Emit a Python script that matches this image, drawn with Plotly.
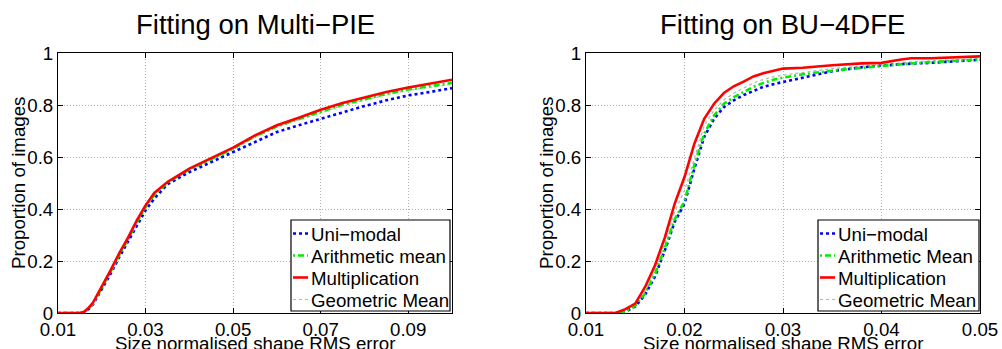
import plotly.graph_objects as go

# ---- Data: Multi-PIE (left) ----
x_mpie = [0.010, 0.015, 0.016, 0.017, 0.018, 0.020, 0.022, 0.024, 0.026, 0.028, 0.030, 0.032,
          0.035, 0.040, 0.045, 0.050, 0.055, 0.060, 0.065, 0.070, 0.075, 0.080, 0.085, 0.090, 0.095, 0.100]
mpie_uni = [0.0, 0.0, 0.004, 0.015, 0.033, 0.09, 0.15, 0.215, 0.275, 0.34, 0.395, 0.44,
            0.495, 0.542, 0.58, 0.619, 0.658, 0.696, 0.722, 0.747, 0.773, 0.796, 0.818, 0.837, 0.85, 0.865]
mpie_arith = [0.0, 0.0, 0.004, 0.017, 0.036, 0.095, 0.158, 0.223, 0.283, 0.349, 0.407, 0.455,
              0.502, 0.552, 0.593, 0.632, 0.679, 0.718, 0.746, 0.775, 0.801, 0.822, 0.843, 0.86, 0.873, 0.885]
mpie_mult = [0.0, 0.0, 0.005, 0.02, 0.04, 0.10, 0.164, 0.23, 0.29, 0.356, 0.414, 0.462,
             0.504, 0.555, 0.596, 0.636, 0.683, 0.722, 0.751, 0.782, 0.808, 0.828, 0.85, 0.867, 0.882, 0.897]
mpie_geo = [0.0, 0.0, 0.004, 0.017, 0.036, 0.094, 0.157, 0.222, 0.282, 0.348, 0.405, 0.453,
            0.5, 0.55, 0.59, 0.63, 0.676, 0.715, 0.743, 0.772, 0.798, 0.818, 0.839, 0.856, 0.869, 0.88]

# ---- Data: BU-4DFE (right) ----
x_bu = [0.010, 0.013, 0.014, 0.015, 0.016, 0.017, 0.018, 0.019, 0.020, 0.021, 0.022, 0.023,
        0.024, 0.025, 0.026, 0.027, 0.028, 0.029, 0.030, 0.032, 0.035, 0.038, 0.040, 0.042,
        0.043, 0.045, 0.050]
bu_uni = [0.0, 0.0, 0.005, 0.025, 0.07, 0.14, 0.24, 0.35, 0.42, 0.555, 0.677, 0.747,
          0.792, 0.818, 0.838, 0.855, 0.87, 0.88, 0.888, 0.905, 0.93, 0.945, 0.952, 0.957,
          0.959, 0.962, 0.974]
bu_arith = [0.0, 0.0, 0.006, 0.028, 0.075, 0.15, 0.25, 0.36, 0.43, 0.57, 0.69, 0.76,
            0.805, 0.83, 0.85, 0.87, 0.885, 0.897, 0.905, 0.918, 0.932, 0.944, 0.95, 0.957,
            0.96, 0.965, 0.975]
bu_mult = [0.0, 0.0, 0.015, 0.036, 0.10, 0.183, 0.29, 0.42, 0.523, 0.651, 0.747, 0.805,
           0.846, 0.872, 0.89, 0.91, 0.922, 0.932, 0.94, 0.943, 0.953, 0.96, 0.962, 0.975,
           0.98, 0.98, 0.987]
bu_geo = [0.0, 0.0, 0.01, 0.03, 0.085, 0.165, 0.27, 0.39, 0.47, 0.6, 0.72, 0.78,
          0.82, 0.845, 0.865, 0.885, 0.898, 0.908, 0.915, 0.926, 0.94, 0.95, 0.955, 0.962,
          0.966, 0.97, 0.978]

names_left = ["Uni\u2212modal", "Arithmetic mean", "Multiplication", "Geometric Mean"]
names_right = ["Uni\u2212modal", "Arithmetic Mean", "Multiplication", "Geometric Mean"]

xt_left = [0.01, 0.03, 0.05, 0.07, 0.09]
xt_right = [0.01, 0.02, 0.03, 0.04, 0.05]
yt = [0, 0.2, 0.4, 0.6, 0.8, 1]
yt_text = ["0", "0.2", "0.4", "0.6", "0.8", "1"]

styles = [
    dict(color="#0000ff", width=2.6, dash="dot"),
    dict(color="#00ee00", width=2.6, dash="2px,3px,6px,3px"),
    dict(color="#ff0000", width=2.6, dash="solid"),
    dict(color="#b4b4b4", width=1.2, dash="dot"),
]

FONT = "Liberation Sans, Arial, sans-serif"
fig = go.Figure()

left_series = [mpie_uni, mpie_arith, mpie_mult, mpie_geo]
right_series = [bu_uni, bu_arith, bu_mult, bu_geo]
order = [3, 0, 1, 2]  # geometric underneath, red on top
for i in order:
    fig.add_trace(go.Scatter(x=x_mpie, y=left_series[i], mode="lines", name=names_left[i],
                             line=styles[i], xaxis="x", yaxis="y", showlegend=False))
for i in order:
    fig.add_trace(go.Scatter(x=x_bu, y=right_series[i], mode="lines", name=names_right[i],
                             line=styles[i], xaxis="x2", yaxis="y2", showlegend=False))

W, H = 1002, 349
ydom = [(H - 313) / H, (H - 53) / H]
axis_common = dict(showline=True, linecolor="black", linewidth=1, mirror="allticks",
                   ticks="inside", ticklen=5, tickcolor="black", automargin=False,
                   showgrid=True, gridcolor="#b0b0b0", griddash="1px,2px", gridwidth=1,
                   zeroline=False, tickfont=dict(family=FONT, size=18.7, color="black"))

fig.update_layout(
    width=W, height=H, margin=dict(l=0, r=0, t=0, b=0, autoexpand=False),
    paper_bgcolor="white", plot_bgcolor="white",
    font=dict(family=FONT, color="black"),
    xaxis=dict(domain=[58 / W, 452 / W], range=[0.01, 0.10], tickvals=xt_left,
               ticktext=[f"{v:.2f}" for v in xt_left], anchor="y", **axis_common),
    yaxis=dict(domain=ydom, range=[0, 1], tickvals=yt, ticktext=yt_text, anchor="x",
               **axis_common),
    xaxis2=dict(domain=[586 / W, 980 / W], range=[0.01, 0.05], tickvals=xt_right,
                ticktext=[f"{v:.2f}" for v in xt_right], anchor="y2", **axis_common),
    yaxis2=dict(domain=ydom, range=[0, 1], tickvals=yt, ticktext=yt_text, anchor="x2",
                **axis_common),
    showlegend=False,
)

ann = []
shapes = []
for cx, t in [(255, "Fitting on Multi\u2212PIE"), (782, "Fitting on BU\u22124DFE")]:
    ann.append(dict(x=cx / W, y=(H - 25) / H, xref="paper", yref="paper", text=t,
                    showarrow=False, xanchor="center", yanchor="middle",
                    font=dict(family=FONT, size=27.5, color="black")))
for cx in [255, 783]:
    ann.append(dict(x=cx / W, y=(H - 343) / H, xref="paper", yref="paper",
                    text="Size normalised shape RMS error", showarrow=False,
                    xanchor="center", yanchor="middle",
                    font=dict(family=FONT, size=18.7, color="black")))
for cx in [18, 546]:
    ann.append(dict(x=cx / W, y=(H - 183) / H, xref="paper", yref="paper",
                    text="Proportion of images", showarrow=False, textangle=-90,
                    xanchor="center", yanchor="middle",
                    font=dict(family=FONT, size=18.7, color="black")))

# legend boxes (drawn with shapes + text)
row_y = [233.5, 255.5, 277.5, 299.5]
for (bx0, bx1, lx0, lx1, tx, names) in [(291, 450, 293, 308, 309, names_left),
                                        (818, 979, 820, 835, 836, names_right)]:
    shapes.append(dict(type="rect", xref="paper", yref="paper",
                       x0=bx0 / W, x1=bx1 / W, y0=(H - 311) / H, y1=(H - 220) / H,
                       fillcolor="white", line=dict(color="black", width=1.2), layer="above"))
    for k in range(4):
        yy = (H - row_y[k]) / H
        shapes.append(dict(type="line", xref="paper", yref="paper",
                           x0=lx0 / W, x1=lx1 / W, y0=yy, y1=yy,
                           line=styles[k], layer="above"))
        ann.append(dict(x=tx / W, y=(H - row_y[k] - 1) / H, xref="paper", yref="paper",
                        text=names[k], showarrow=False, xanchor="left", yanchor="middle",
                        font=dict(family=FONT, size=18.7, color="black")))

fig.update_layout(annotations=ann, shapes=shapes)
fig.write_html("out.html", config={"displayModeBar": False},
               post_script="document.body.style.margin='0';document.body.style.padding='0';")
